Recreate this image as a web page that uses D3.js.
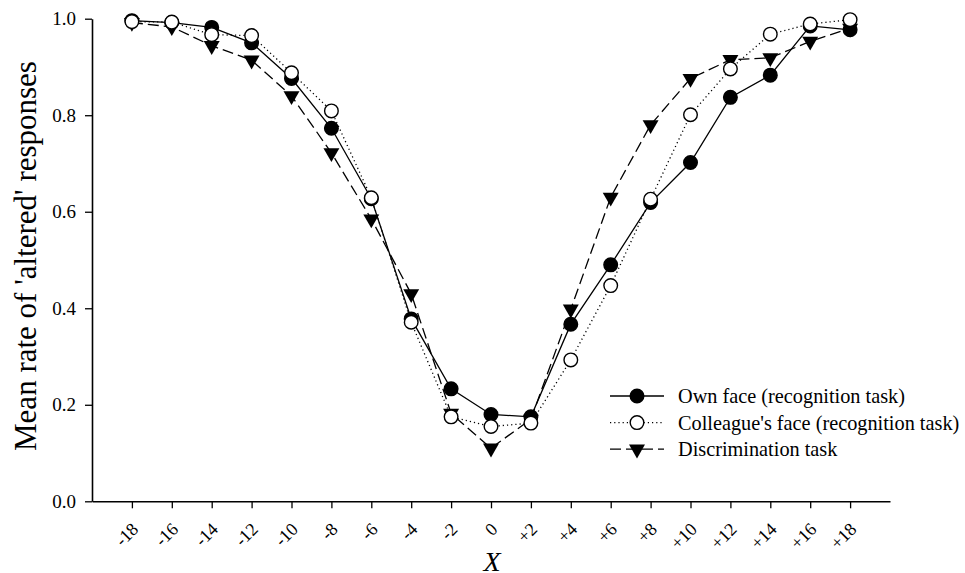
<!DOCTYPE html>
<html>
<head>
<meta charset="utf-8">
<script src="https://cdn.jsdelivr.net/npm/d3@7"></script>
<style>
body { margin: 0; background: #fff; }
svg text { font-family: "Liberation Serif", "Times New Roman", serif; fill: #000; }
</style>
</head>
<body>
<svg id="chart" width="965" height="573"></svg>
<script>
// tick labels on the x axis, one per condition
var xValues = [-18, -16, -14, -12, -10, -8, -6, -4, -2, 0, 2, 4, 6, 8, 10, 12, 14, 16, 18];
var xLabels = ["-18", "-16", "-14", "-12", "-10", "-8", "-6", "-4", "-2", "0",
	"+2", "+4", "+6", "+8", "+10", "+12", "+14", "+16", "+18"];
var yTicks = [0, 0.2, 0.4, 0.6, 0.8, 1.0];

// series
var ownFace = [0.996, 0.992, 0.982, 0.950, 0.876, 0.773, 0.627, 0.378, 0.233, 0.180,
	0.175, 0.367, 0.490, 0.619, 0.702, 0.837, 0.883, 0.985, 0.977];
var colleagueFace = [0.994, 0.993, 0.967, 0.965, 0.888, 0.809, 0.629, 0.371, 0.175, 0.155,
	0.162, 0.293, 0.447, 0.626, 0.801, 0.896, 0.968, 0.989, 0.998];
var discrimination = [0.992, 0.983, 0.944, 0.914, 0.840, 0.722, 0.585, 0.430, 0.182, 0.110,
	0.170, 0.398, 0.630, 0.780, 0.876, 0.915, 0.919, 0.953, 0.980];

var seriesNames = ["Own face (recognition task)", "Colleague's face (recognition task)", "Discrimination task"];

var svg = d3.select("#chart");

var x = d3.scaleLinear().domain([-20, 20]).range([92, 890]);
var y = d3.scaleLinear().domain([0, 1]).range([501.3, 18.7]);

var serif = "'Liberation Serif', 'Times New Roman', serif";

// axes
var xAxis = svg.append("g")
	.attr("transform", "translate(0," + y(0) + ")")
	.call(d3.axisBottom(x).tickValues(xValues).tickSize(7).tickSizeOuter(0)
		.tickFormat(function(d, i) { return xLabels[i]; }))
	.attr("font-family", serif)
	.attr("font-size", 18);
xAxis.select(".domain").attr("stroke-width", 1.6);
xAxis.selectAll(".tick line").attr("stroke-width", 1.3);
xAxis.selectAll(".tick text")
	.style("font-size", "18px")
	.attr("text-anchor", "end")
	.attr("dy", null)
	.attr("y", 0)
	.attr("transform", "translate(7,29) rotate(-45)");

var yAxis = svg.append("g")
	.attr("transform", "translate(" + x(-20) + ",0)")
	.call(d3.axisLeft(y).tickValues(yTicks).tickSize(7).tickSizeOuter(0)
		.tickFormat(d3.format(".1f")))
	.attr("font-family", serif)
	.attr("font-size", 19);
yAxis.select(".domain").attr("stroke-width", 1.6);
yAxis.selectAll(".tick line").attr("stroke-width", 1.3);
yAxis.selectAll(".tick text").style("font-size", "19px").attr("x", -16);

// axis titles
svg.append("text")
	.attr("transform", "translate(36,256) rotate(-90)")
	.attr("text-anchor", "middle")
	.attr("font-size", 31)
	.text("Mean rate of 'altered' responses");
svg.append("text")
	.attr("x", 492).attr("y", 571)
	.attr("text-anchor", "middle")
	.attr("font-size", 28)
	.attr("font-style", "italic")
	.text("X");

// series styling
var styles = [
	{ data: ownFace, dash: null, marker: "filled" },
	{ data: colleagueFace, dash: "1.2,3", marker: "open" },
	{ data: discrimination, dash: "11,5", marker: "triangle" }
];

var line = d3.line()
	.x(function(d, i) { return x(xValues[i]); })
	.y(function(d) { return y(d); });

var tri = d3.symbol().type(d3.symbolTriangle).size(110);

function drawMarker(g, kind, cx, cy) {
	if (kind === "triangle") {
		g.append("path")
			.attr("d", tri())
			.attr("transform", "translate(" + cx + "," + cy + ") rotate(180)")
			.attr("fill", "#000");
	} else {
		g.append("circle")
			.attr("cx", cx).attr("cy", cy).attr("r", 6.8)
			.attr("fill", kind === "filled" ? "#000" : "#fff")
			.attr("stroke", "#000")
			.attr("stroke-width", 1.4);
	}
}

// lines first, then markers; colleague circles drawn last so they sit on top
var plot = svg.append("g");
styles.forEach(function(s) {
	plot.append("path")
		.datum(s.data)
		.attr("d", line)
		.attr("fill", "none")
		.attr("stroke", "#000")
		.attr("stroke-width", 1.3)
		.attr("stroke-dasharray", s.dash);
});
[2, 0, 1].forEach(function(k) {
	var s = styles[k];
	var g = plot.append("g");
	s.data.forEach(function(v, i) {
		drawMarker(g, s.marker, x(xValues[i]), y(v));
	});
});

// legend
var legend = svg.append("g");
styles.forEach(function(s, i) {
	var ly = 396 + i * 26.6;
	legend.append("line")
		.attr("x1", 610).attr("x2", 664)
		.attr("y1", ly).attr("y2", ly)
		.attr("stroke", "#000")
		.attr("stroke-width", 1.3)
		.attr("stroke-dasharray", s.dash);
	drawMarker(legend, s.marker, 637, ly);
	legend.append("text")
		.attr("x", 678).attr("y", ly + 7)
		.attr("font-size", 20.3)
		.text(seriesNames[i]);
});
</script>
</body>
</html>
